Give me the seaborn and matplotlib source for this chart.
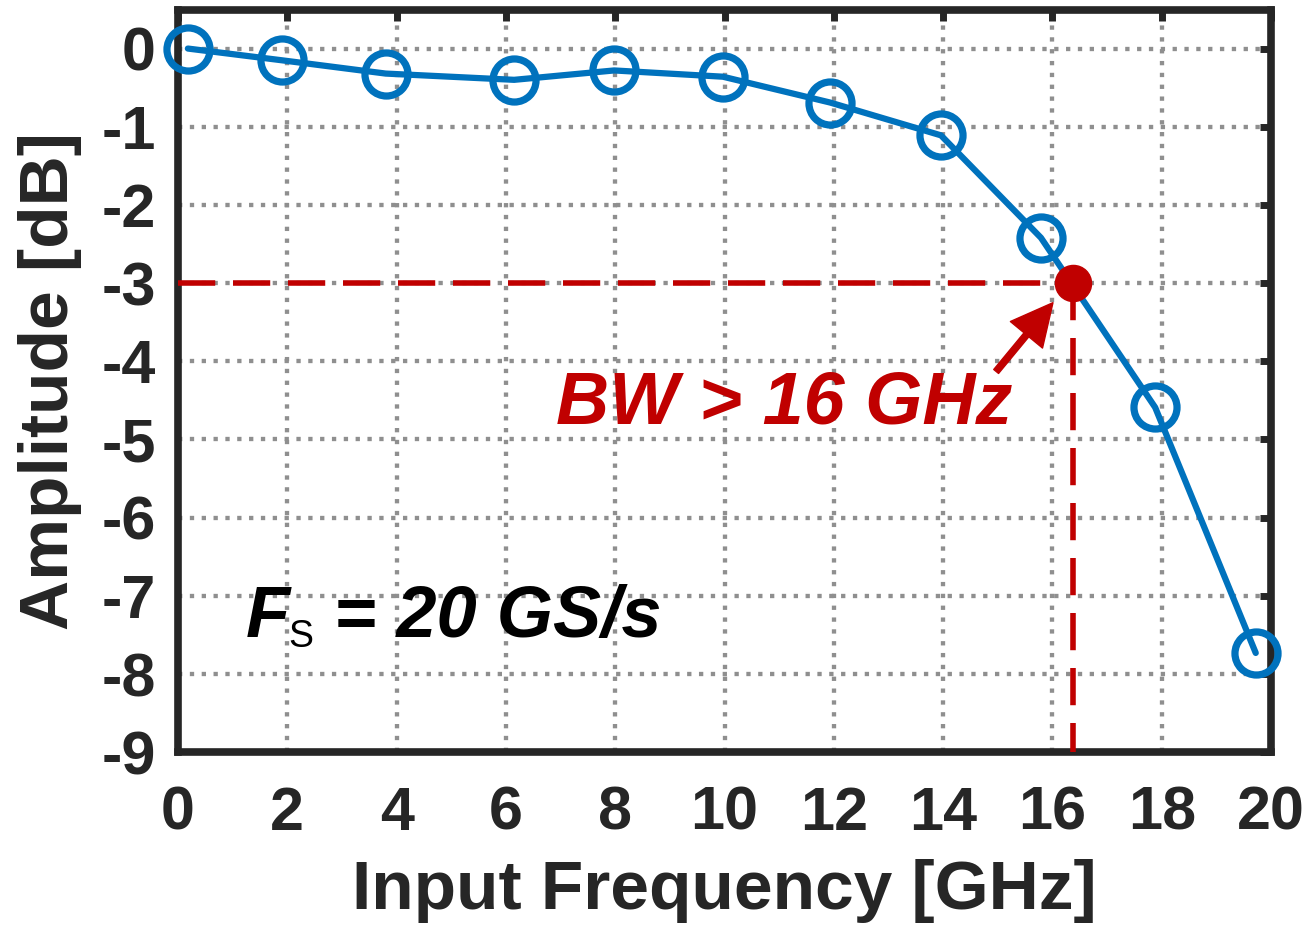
import seaborn as sns
import matplotlib.pyplot as plt
import pandas as pd

freq_ghz = [0.18, 1.9, 3.8, 6.15, 7.98, 9.97, 11.93, 13.96, 15.79, 17.88, 19.72]
amp_db = [0.0, -0.15, -0.32, -0.40, -0.28, -0.36, -0.69, -1.11, -2.42, -4.59, -7.73]
bw_freq = 16.38
bw_level = -3.0
x_ticks = list(range(0, 21, 2))
y_ticks = list(range(-9, 1))

df = pd.DataFrame({'freq': freq_ghz, 'amp': amp_db})

sns.set_style('white')
plt.rcParams['font.family'] = ['Liberation Sans', 'DejaVu Sans']
plt.rcParams['axes.unicode_minus'] = False

fig = plt.figure(figsize=(13.09, 9.31), dpi=100)
ax = fig.add_axes([0.136, 0.192, 0.835, 0.797])

blue = '#0072BD'
red = '#C00000'
dark = '#262626'

ax.grid(True, color='#8f8f8f', linestyle=(0, (1, 1.75)), linewidth=3.1)
ax.set_axisbelow(True)

# -3 dB guide lines
ax.plot([0, bw_freq], [bw_level, bw_level], color=red, linewidth=4,
        dashes=(6.7, 3.2), zorder=3)
ax.plot([bw_freq, bw_freq], [bw_level, -9], color=red, linewidth=4,
        dashes=(6.7, 3.2), zorder=3)

sns.lineplot(data=df, x='freq', y='amp', ax=ax, color=blue, linewidth=4.5,
             marker='o', markersize=31, markerfacecolor='none',
             markeredgecolor=blue, markeredgewidth=5.2, clip_on=False, zorder=4)

ax.plot([bw_freq], [bw_level], 'o', color=red, markersize=26, zorder=5)

ax.annotate('', xy=(16.01, -3.25), xytext=(14.97, -4.13),
            arrowprops=dict(facecolor=red, edgecolor=red, width=4.5,
                            headwidth=30, headlength=30, shrink=0))
ax.text(11.1, -4.55, 'BW > 16 GHz', color=red, fontsize=53,
        fontweight='bold', fontstyle='italic', ha='center', va='center')

# F_S = 20 GS/s
ax.text(1.24, -7.53, 'F', color='black', fontsize=52, fontweight='bold',
        fontstyle='italic', ha='left', va='baseline')
ax.text(2.02, -7.65, 'S', color='black', fontsize=27, ha='left', va='baseline')
ax.text(2.85, -7.53, '= 20 GS/s', color='black', fontsize=52, fontweight='bold',
        fontstyle='italic', ha='left', va='baseline')

ax.set_xlim(0, 20)
ax.set_ylim(-9, 0.49)
ax.set_xticks(x_ticks)
ax.set_yticks(y_ticks)
ax.tick_params(direction='in', length=8, width=5, color=dark,
               top=True, right=True, labelsize=44, labelcolor=dark)
ax.tick_params(axis='x', pad=24)
ax.tick_params(axis='y', pad=16)
for lab in ax.get_xticklabels() + ax.get_yticklabels():
    lab.set_fontweight('bold')
for s in ax.spines.values():
    s.set_linewidth(5.5)
    s.set_color(dark)

ax.set_xlabel('Input Frequency [GHz]', fontsize=50, fontweight='bold',
              color=dark, labelpad=12)
ax.set_ylabel('Amplitude [dB]', fontsize=50, fontweight='bold',
              color=dark, labelpad=14)

plt.savefig('out.png', dpi=100)
